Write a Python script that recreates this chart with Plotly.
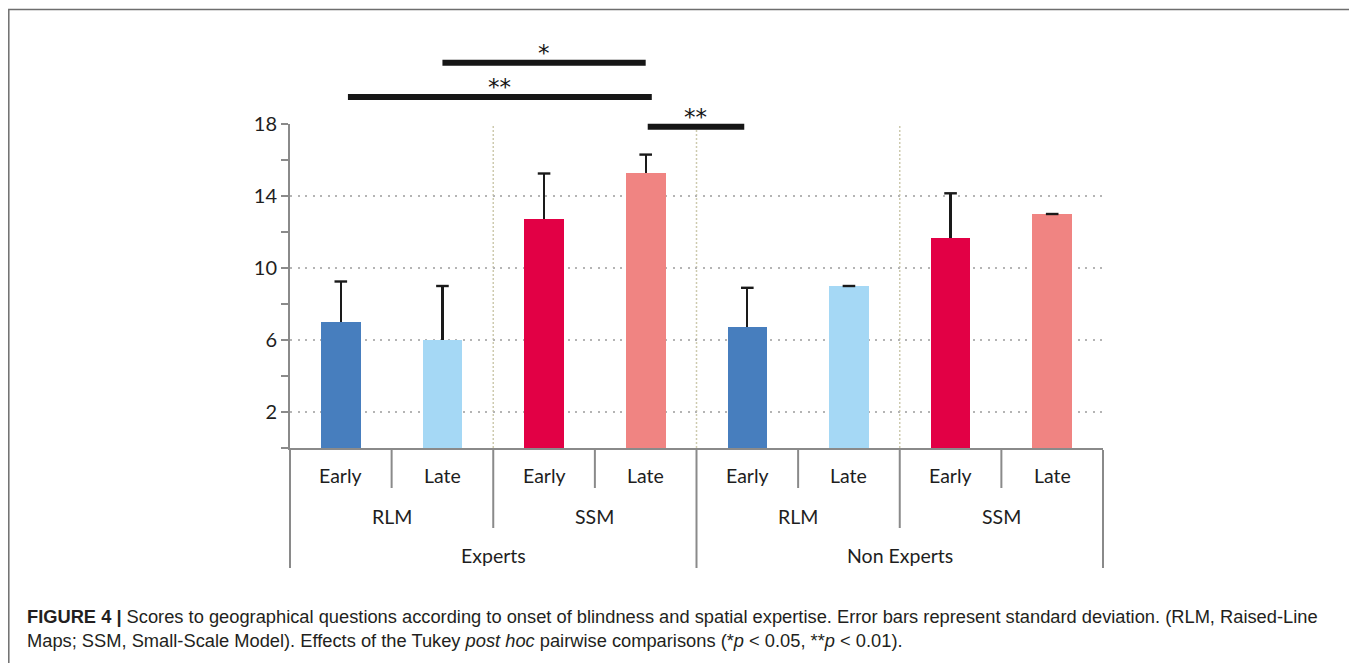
import plotly.graph_objects as go

# ---------------- data ----------------
groups = ["Experts", "Experts", "Experts", "Experts",
          "Non Experts", "Non Experts", "Non Experts", "Non Experts"]
materials = ["RLM", "RLM", "SSM", "SSM", "RLM", "RLM", "SSM", "SSM"]
onsets = ["Early", "Late", "Early", "Late", "Early", "Late", "Early", "Late"]
means = [7.0, 6.0, 12.75, 15.3, 6.7, 9.0, 11.65, 13.0]
sds = [2.25, 3.0, 2.5, 1.0, 2.2, 0.0, 2.5, 0.0]

y_tick_values = [2, 6, 10, 14, 18]

# significance comparisons (x in category units, y in score units)
sig_x0 = [1.5, 0.57, 3.52]
sig_x1 = [3.5, 3.56, 4.47]
sig_y = [21.4, 19.5, 17.85]
sig_labels = ["*", "**", "**"]

caption_line1 = ("<b>FIGURE 4 |</b> Scores to geographical questions according to onset of blindness "
                 "and spatial expertise. Error bars represent standard deviation. (RLM, Raised-Line")
caption_line2 = ("Maps; SSM, Small-Scale Model). Effects of the Tukey <i>post hoc</i> pairwise "
                 "comparisons (*<i>p</i> &lt; 0.05, **<i>p</i> &lt; 0.01).")

# ---------------- styles ----------------
color_map = {("RLM", "Early"): "#477EBE", ("RLM", "Late"): "#A5D8F5",
             ("SSM", "Early"): "#E20045", ("SSM", "Late"): "#F08482"}
YMAX = 18
OFF = 8  # page body margin
W, H = 1357 - OFF, 663 - OFF
ML, MR, MT, MB = 282, 254, 116, 215
PW, PH = W - ML - MR, H - MT - MB
FONT = "Lato"
AXIS_GRAY = "#8a8a8a"

n = len(means)
xpos = [i + 0.5 for i in range(n)]
bar_colors = [color_map[(m, o)] for m, o in zip(materials, onsets)]


def px_to_paper_x(px):
    return (px - OFF - ML) / PW


def px_to_paper_y(py):
    return (H - MB - (py - OFF)) / PH


fig = go.Figure()
fig.add_trace(go.Bar(
    x=xpos, y=means, width=0.39,
    marker=dict(color=bar_colors, line=dict(width=0)),
    error_y=dict(type="data", symmetric=False, array=sds, arrayminus=[0] * n,
                 color="#1a1a1a", thickness=2.2, width=0),
    showlegend=False, hoverinfo="skip",
))
# error bar caps (top only)
fig.add_trace(go.Scatter(
    x=xpos, y=[m + s for m, s in zip(means, sds)], mode="markers",
    marker=dict(symbol="line-ew", size=9, line=dict(color="#1a1a1a", width=2.4)),
    showlegend=False, hoverinfo="skip", cliponaxis=False,
))

shapes = []
annotations = []

# vertical dotted separators inside plot (material boundaries)
for i in range(1, n):
    if materials[i] != materials[i - 1] or groups[i] != groups[i - 1]:
        shapes.append(dict(type="line", xref="x", yref="y", x0=i, x1=i, y0=0, y1=YMAX,
                           line=dict(color="#cdcaae", width=1.5, dash="2px,2px"), layer="below"))


# category table below the axis
def depth_paper(level):
    return {1: px_to_paper_y(488), 2: px_to_paper_y(528), 3: px_to_paper_y(568)}[level]


top_p = px_to_paper_y(450)
for i in range(0, n + 1):
    if i == 0 or i == n or groups[i] != groups[i - 1]:
        level = 3
    elif materials[i] != materials[i - 1]:
        level = 2
    else:
        level = 1
    shapes.append(dict(type="line", xref="paper", yref="paper", x0=i / n, x1=i / n,
                       y0=top_p, y1=depth_paper(level),
                       line=dict(color=AXIS_GRAY, width=2)))

label_font = dict(family=FONT, size=19.5, color="#1e1e1e")
for i, o in enumerate(onsets):
    annotations.append(dict(x=xpos[i], y=px_to_paper_y(475), xref="x", yref="paper", text=o,
                            showarrow=False, font=label_font, yanchor="middle"))
# material labels
i = 0
while i < n:
    j = i
    while j + 1 < n and materials[j + 1] == materials[i] and groups[j + 1] == groups[i]:
        j += 1
    annotations.append(dict(x=(i + j + 1) / 2, y=px_to_paper_y(516), xref="x", yref="paper",
                            text=materials[i], showarrow=False, font=label_font, yanchor="middle"))
    i = j + 1
# group labels
i = 0
while i < n:
    j = i
    while j + 1 < n and groups[j + 1] == groups[i]:
        j += 1
    annotations.append(dict(x=(i + j + 1) / 2, y=px_to_paper_y(555), xref="x", yref="paper",
                            text=groups[i], showarrow=False, font=label_font, yanchor="middle"))
    i = j + 1

# significance bars
for x0, x1, yv, lab in zip(sig_x0, sig_x1, sig_y, sig_labels):
    shapes.append(dict(type="line", xref="x", yref="paper", x0=x0, x1=x1,
                       y0=yv / YMAX, y1=yv / YMAX, line=dict(color="#161616", width=6)))
    annotations.append(dict(x=(x0 + x1) / 2, y=yv / YMAX, xref="x", yref="paper", text=lab,
                            showarrow=False, yanchor="bottom", yshift=-5,
                            font=dict(family="DejaVu Sans", size=23, color="#161616")))

# outer border
shapes.append(dict(type="rect", xref="paper", yref="paper",
                   x0=px_to_paper_x(8.8), x1=px_to_paper_x(1355),
                   y0=px_to_paper_y(700), y1=px_to_paper_y(9.5),
                   line=dict(color="#6e6e6e", width=1.5), fillcolor="rgba(0,0,0,0)"))

# caption
cap_font = dict(family="Liberation Sans", size=18.3, color="#231f20")
annotations.append(dict(x=px_to_paper_x(25), y=px_to_paper_y(616), xref="paper", yref="paper",
                        text=caption_line1, showarrow=False, xanchor="left", yanchor="middle",
                        align="left", font=cap_font))
annotations.append(dict(x=px_to_paper_x(25), y=px_to_paper_y(640), xref="paper", yref="paper",
                        text=caption_line2, showarrow=False, xanchor="left", yanchor="middle",
                        align="left", font=cap_font))

fig.update_layout(
    width=W, height=H,
    margin=dict(l=ML, r=MR, t=MT, b=MB, pad=0),
    paper_bgcolor="white", plot_bgcolor="white",
    shapes=shapes, annotations=annotations,
    xaxis=dict(range=[0, n], showticklabels=False, ticks="", showgrid=False, zeroline=False,
               showline=True, linecolor=AXIS_GRAY, linewidth=2, fixedrange=True),
    yaxis=dict(range=[0, YMAX], tickvals=y_tick_values, ticks="outside", ticklen=7,
               tickcolor=AXIS_GRAY, tickwidth=1.5,
               minor=dict(tickvals=list(range(0, YMAX + 1, 2)), ticks="outside", ticklen=7,
                          tickcolor=AXIS_GRAY, tickwidth=1.5, showgrid=False),
               showgrid=True, gridcolor="#b4b4b4", griddash="2px,5.5px", gridwidth=1.6,
               zeroline=False, showline=True, linecolor=AXIS_GRAY, linewidth=2,
               tickfont=dict(family=FONT, size=20, color="#1e1e1e"), fixedrange=True),
    bargap=0,
)

fig.write_html("out.html")
